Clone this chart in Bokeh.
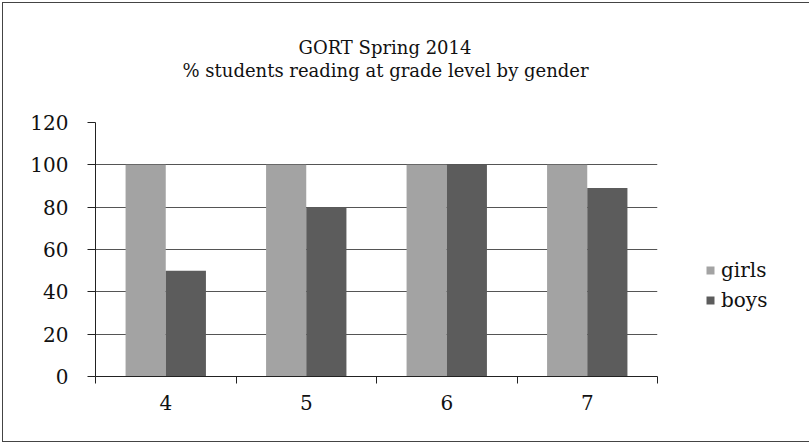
from bokeh.plotting import figure
from bokeh.models import (ColumnDataSource, FixedTicker, Legend, LegendItem, Range1d, Title)
from bokeh.transform import dodge
from bokeh.embed import file_html
from bokeh.resources import INLINE

grades = ["4", "5", "6", "7"]
girls = [100, 100, 100, 100]
boys = [50, 80, 100, 89]
y_ticks = [0, 20, 40, 60, 80, 100, 120]
title_lines = ["GORT Spring 2014", "% students reading at grade level by gender"]

FONT = "DejaVu Serif"

xc = [i + 0.5 for i in range(len(grades))]
src = ColumnDataSource(dict(xc=xc, girls=girls, boys=boys, grade=grades))

p = figure(width=804, height=438, output_backend="svg", toolbar_location=None,
           x_range=Range1d(0, len(grades)), y_range=Range1d(0, 120),
           frame_width=562, frame_height=254, title=None,
           min_border_left=92, min_border_top=119, min_border_right=150, min_border_bottom=65)
p.styles = {"border": "1px solid #444", "box-sizing": "border-box", "margin-left": "2px",
            "margin-top": "2px"}
p.outline_line_color = None
p.background_fill_color = "white"

bw = 0.286
rg = p.vbar(x=dodge("xc", -bw / 2, range=p.x_range), top="girls", width=bw, source=src,
            fill_color="#a3a3a3", line_color=None)
rb = p.vbar(x=dodge("xc", bw / 2, range=p.x_range), top="boys", width=bw, source=src,
            fill_color="#5c5c5c", line_color=None)

# spacer between frame and title lines
p.add_layout(Title(text=" ", text_font=FONT, text_font_size="17px", standoff=20), "above")
# title (two lines), centred at about x=384 of the picture
p.add_layout(Title(text=title_lines[1], align="left", text_font=FONT, text_font_size="18px",
                   text_font_style="normal", text_color="#111", offset=87, standoff=0), "above")
p.add_layout(Title(text=title_lines[0], align="left", text_font=FONT, text_font_size="18px",
                   text_font_style="normal", text_color="#111", offset=203, standoff=0), "above")

# y axis
p.yaxis.ticker = FixedTicker(ticks=y_ticks)
p.yaxis.major_label_text_font = FONT
p.yaxis.major_label_text_font_size = "20px"
p.yaxis.major_label_text_color = "#111"
p.yaxis.major_tick_out = 8
p.yaxis.major_tick_in = 0
p.yaxis.minor_tick_line_color = None
p.yaxis.axis_line_color = "#222"
p.yaxis.major_tick_line_color = "#222"
p.yaxis.major_label_standoff = 19

# x axis: labels at centers, ticks at boundaries (minor)
p.xaxis.ticker = FixedTicker(ticks=xc, minor_ticks=list(range(len(grades) + 1)))
p.xaxis.major_label_overrides = {x: g for x, g in zip(xc, grades)}
p.xaxis.major_tick_line_color = None
p.xaxis.major_tick_out = 0
p.xaxis.major_tick_in = 0
p.xaxis.minor_tick_out = 7
p.xaxis.minor_tick_in = 0
p.xaxis.minor_tick_line_color = "#222"
p.xaxis.axis_line_color = "#222"
p.xaxis.major_label_text_font = FONT
p.xaxis.major_label_text_font_size = "20px"
p.xaxis.major_label_text_color = "#111"
p.xaxis.major_label_standoff = 11

p.xgrid.grid_line_color = None
p.ygrid.ticker = FixedTicker(ticks=y_ticks)
p.ygrid.grid_line_color = "#555"
p.ygrid.grid_line_width = 1

legend = Legend(items=[LegendItem(label="girls", renderers=[rg]),
                       LegendItem(label="boys", renderers=[rb])],
                location=(48, 64), orientation="vertical",
                label_text_font=FONT, label_text_font_size="20px", label_text_color="#111",
                glyph_width=10, glyph_height=10, spacing=6, padding=0, margin=0,
                label_standoff=6, border_line_color=None, background_fill_alpha=0)
p.add_layout(legend, "right")

open("out.html", "w").write(file_html(p, INLINE))
